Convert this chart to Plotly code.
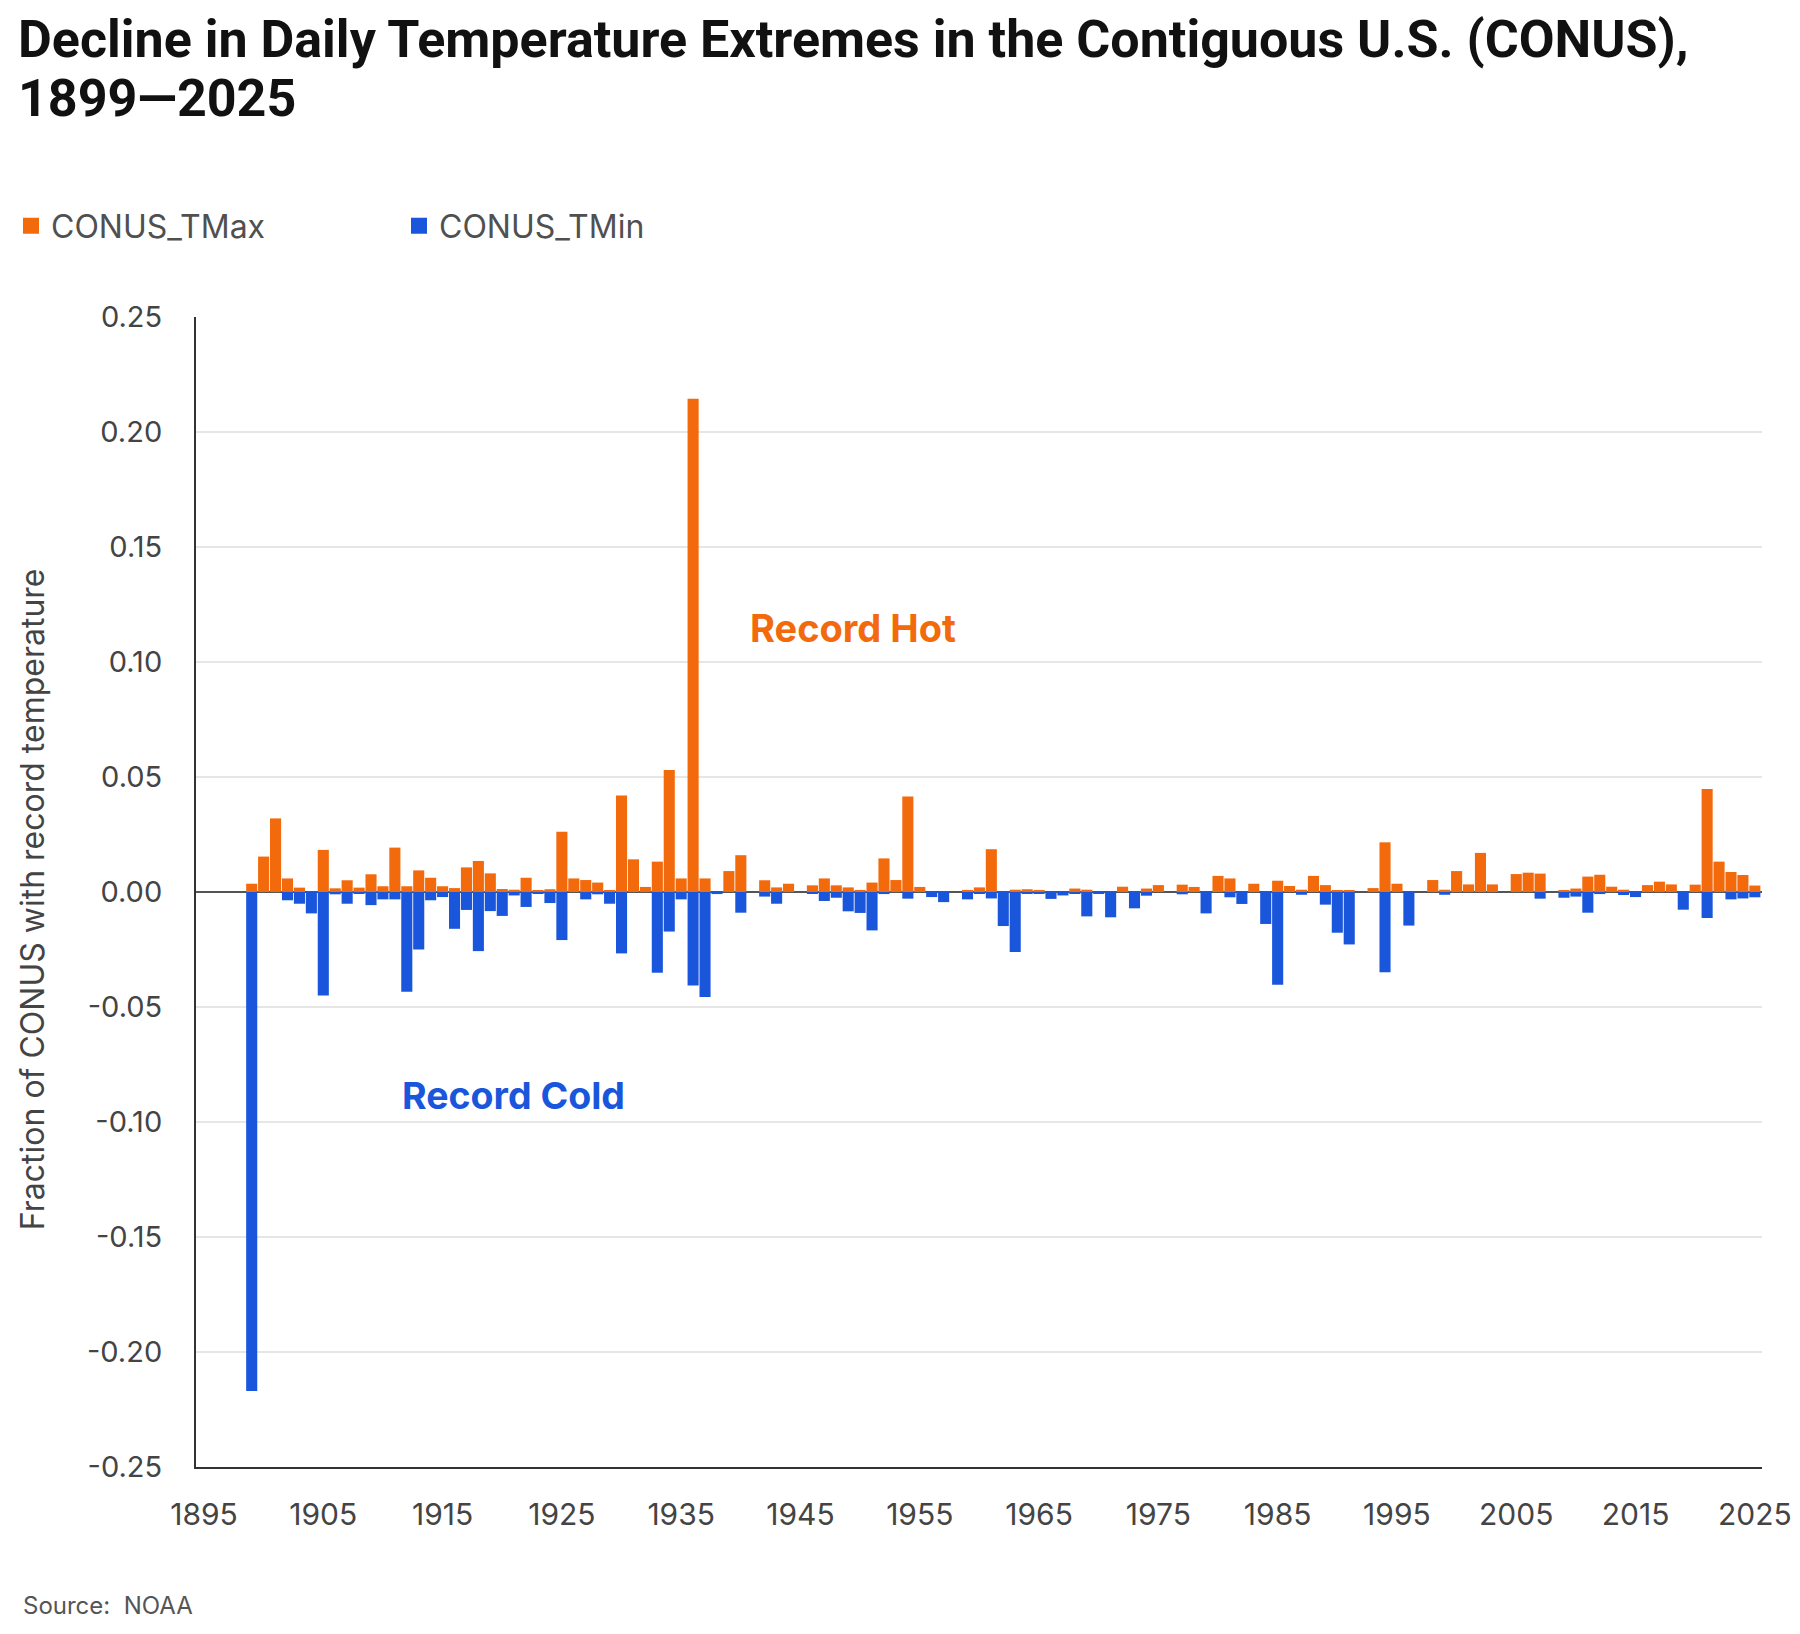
import plotly.graph_objects as go

years = list(range(1899, 2026))

tmax = [
    0.0036,                                                                 # 1899
    0.0154, 0.0320, 0.0059, 0.0019, 0.0000, 0.0183, 0.0016, 0.0051, 0.0019, 0.0077,  # 1900-1909
    0.0025, 0.0193, 0.0025, 0.0094, 0.0062, 0.0025, 0.0017, 0.0107, 0.0135, 0.0081,  # 1910-1919
    0.0013, 0.0010, 0.0062, 0.0005, 0.0012, 0.0262, 0.0059, 0.0052, 0.0041, 0.0008,  # 1920-1929
    0.0420, 0.0142, 0.0022, 0.0132, 0.0530, 0.0059, 0.2145, 0.0059, 0.0000, 0.0091,  # 1930-1939
    0.0160, 0.0000, 0.0051, 0.0020, 0.0036, 0.0000, 0.0029, 0.0059, 0.0029, 0.0020,  # 1940-1949
    0.0009, 0.0041, 0.0146, 0.0052, 0.0415, 0.0022, 0.0000, 0.0000, 0.0000, 0.0009,  # 1950-1959
    0.0020, 0.0186, 0.0000, 0.0010, 0.0012, 0.0009, 0.0000, 0.0000, 0.0015, 0.0010,  # 1960-1969
    0.0000, 0.0000, 0.0023, 0.0000, 0.0015, 0.0030, 0.0000, 0.0032, 0.0022, 0.0000,  # 1970-1979
    0.0070, 0.0059, 0.0000, 0.0036, 0.0000, 0.0049, 0.0026, 0.0010, 0.0070, 0.0030,  # 1980-1989
    0.0007, 0.0007, 0.0000, 0.0017, 0.0216, 0.0036, 0.0000, 0.0000, 0.0052, 0.0010,  # 1990-1999
    0.0091, 0.0033, 0.0170, 0.0033, 0.0000, 0.0078, 0.0084, 0.0080, 0.0000, 0.0007,  # 2000-2009
    0.0015, 0.0067, 0.0075, 0.0023, 0.0010, 0.0000, 0.0030, 0.0045, 0.0033, 0.0000,  # 2010-2019
    0.0032, 0.0448, 0.0132, 0.0087, 0.0074, 0.0028,                                  # 2020-2025
]

tmin = [
    -0.2170,                                                                          # 1899
    0.0000, 0.0000, -0.0036, -0.0051, -0.0093, -0.0450, -0.0010, -0.0051, -0.0005, -0.0057,  # 1900-1909
    -0.0032, -0.0032, -0.0434, -0.0250, -0.0036, -0.0022, -0.0160, -0.0078, -0.0257, -0.0083,  # 1910-1919
    -0.0104, -0.0015, -0.0065, -0.0007, -0.0048, -0.0209, 0.0000, -0.0032, -0.0010, -0.0051,  # 1920-1929
    -0.0267, 0.0000, 0.0000, -0.0351, -0.0172, -0.0032, -0.0406, -0.0457, -0.0009, 0.0000,  # 1930-1939
    -0.0090, 0.0000, -0.0020, -0.0051, 0.0000, 0.0000, -0.0007, -0.0039, -0.0025, -0.0084,  # 1940-1949
    -0.0091, -0.0167, -0.0009, 0.0000, -0.0029, 0.0000, -0.0022, -0.0044, 0.0000, -0.0032,  # 1950-1959
    -0.0007, -0.0028, -0.0148, -0.0261, -0.0007, -0.0007, -0.0030, -0.0015, -0.0007, -0.0106,  # 1960-1969
    -0.0007, -0.0110, 0.0000, -0.0071, -0.0016, 0.0000, 0.0000, -0.0010, 0.0000, -0.0093,  # 1970-1979
    0.0000, -0.0023, -0.0052, 0.0000, -0.0139, -0.0403, 0.0000, -0.0012, 0.0000, -0.0055,  # 1980-1989
    -0.0177, -0.0228, 0.0000, 0.0000, -0.0349, 0.0000, -0.0146, 0.0000, 0.0000, -0.0012,  # 1990-1999
    0.0000, 0.0000, 0.0000, 0.0000, 0.0000, 0.0000, 0.0000, -0.0029, 0.0000, -0.0025,  # 2000-2009
    -0.0020, -0.0090, -0.0009, 0.0000, -0.0013, -0.0022, 0.0000, 0.0000, 0.0000, -0.0077,  # 2010-2019
    0.0000, -0.0113, 0.0000, -0.0032, -0.0028, -0.0023,                                   # 2020-2025
]

x_ticks = list(range(1895, 2026, 10))
y_ticks = [0.25, 0.20, 0.15, 0.10, 0.05, 0.00, -0.05, -0.10, -0.15, -0.20, -0.25]
y_tick_labels = ["0.25", "0.20", "0.15", "0.10", "0.05", "0.00", "-0.05", "-0.10", "-0.15", "-0.20", "-0.25"]

ORANGE = "#F26A0C"
BLUE = "#1A56DB"
FONT = "Inter, Roboto, sans-serif"
TITLE_FONT = "Roboto, Inter, sans-serif"

fig = go.Figure()
fig.add_trace(go.Bar(x=years, y=tmax, name="CONUS_TMax", marker=dict(color=ORANGE, line=dict(width=0)),
                     showlegend=False))
fig.add_trace(go.Bar(x=years, y=tmin, name="CONUS_TMin", marker=dict(color=BLUE, line=dict(width=0)),
                     showlegend=False))
# legend entries
fig.add_trace(go.Scatter(x=[None], y=[None], mode="markers", name="CONUS_TMax",
                         marker=dict(symbol="square", size=18, color=ORANGE)))
fig.add_trace(go.Scatter(x=[None], y=[None], mode="markers", name="CONUS_TMin",
                         marker=dict(symbol="square", size=18, color=BLUE)))

OFF = 8  # default page body margin
W, H = 1784, 1618
L, R, T, B = 196 - OFF, 30, 317 - OFF, 1618 - (1466.7 - OFF)
pw, ph = W - L - R, H - T - B


def px(xs):
    return (xs - OFF - L) / pw


def py(ys):
    return (H - B - (ys - OFF)) / ph


fig.update_layout(
    width=W, height=H,
    margin=dict(l=L, r=R, t=T, b=B, pad=0, autoexpand=False),
    paper_bgcolor="white", plot_bgcolor="white",
    barmode="relative", bargap=0.07,
    font=dict(family=FONT, color="#444444", size=28),
    legend=dict(orientation="h", xref="container", yref="container", x=3 / W, y=1 - (226 - OFF) / H,
                xanchor="left", yanchor="middle", entrywidth=343, entrywidthmode="pixels",
                font=dict(family=FONT, size=32, color="#505050"), itemclick=False),
    xaxis=dict(range=[1894.33, 2025.6], tickvals=x_ticks, showgrid=False, zeroline=False,
               showline=True, linecolor="#333333", linewidth=2, ticks="", automargin=False,
               tickfont=dict(family=FONT, size=30, color="#444444"), ticklabelstandoff=20),
    yaxis=dict(range=[-0.25, 0.25], tickvals=y_ticks, ticktext=y_tick_labels,
               showgrid=True, gridcolor="#E6E6E6", gridwidth=2, automargin=False,
               zeroline=True, zerolinecolor="#555555", zerolinewidth=2,
               showline=True, linecolor="#333333", linewidth=2, ticks="",
               tickfont=dict(family=FONT, size=29, color="#444444"), ticklabelstandoff=26),
    annotations=[
        dict(text="<b>Decline in Daily Temperature Extremes in the Contiguous U.S. (CONUS),</b>",
             xref="paper", yref="paper", x=px(16), y=py(40), xanchor="left", yanchor="middle",
             showarrow=False, font=dict(family=TITLE_FONT, size=52, color="#111111")),
        dict(text="<b>1899\u20142025</b>",
             xref="paper", yref="paper", x=px(16), y=py(99), xanchor="left", yanchor="middle",
             showarrow=False, font=dict(family=TITLE_FONT, size=52, color="#111111")),
        dict(text="Fraction of CONUS with record temperature", textangle=-90,
             xref="paper", yref="paper", x=px(32), y=py(899), xanchor="center", yanchor="middle",
             showarrow=False, font=dict(family=FONT, size=32, color="#444444")),
        dict(text="<b>Record Hot</b>", xref="paper", yref="paper", x=px(748), y=py(628),
             xanchor="left", yanchor="middle", showarrow=False,
             font=dict(family=FONT, size=38, color=ORANGE)),
        dict(text="<b>Record Cold</b>", xref="paper", yref="paper", x=px(400), y=py(1095),
             xanchor="left", yanchor="middle", showarrow=False,
             font=dict(family=FONT, size=37.5, color=BLUE)),
        dict(text="Source:  NOAA", xref="paper", yref="paper", x=px(21), y=py(1605),
             xanchor="left", yanchor="middle", showarrow=False,
             font=dict(family=FONT, size=24, color="#555555")),
    ],
)

fig.write_html("out.html")
